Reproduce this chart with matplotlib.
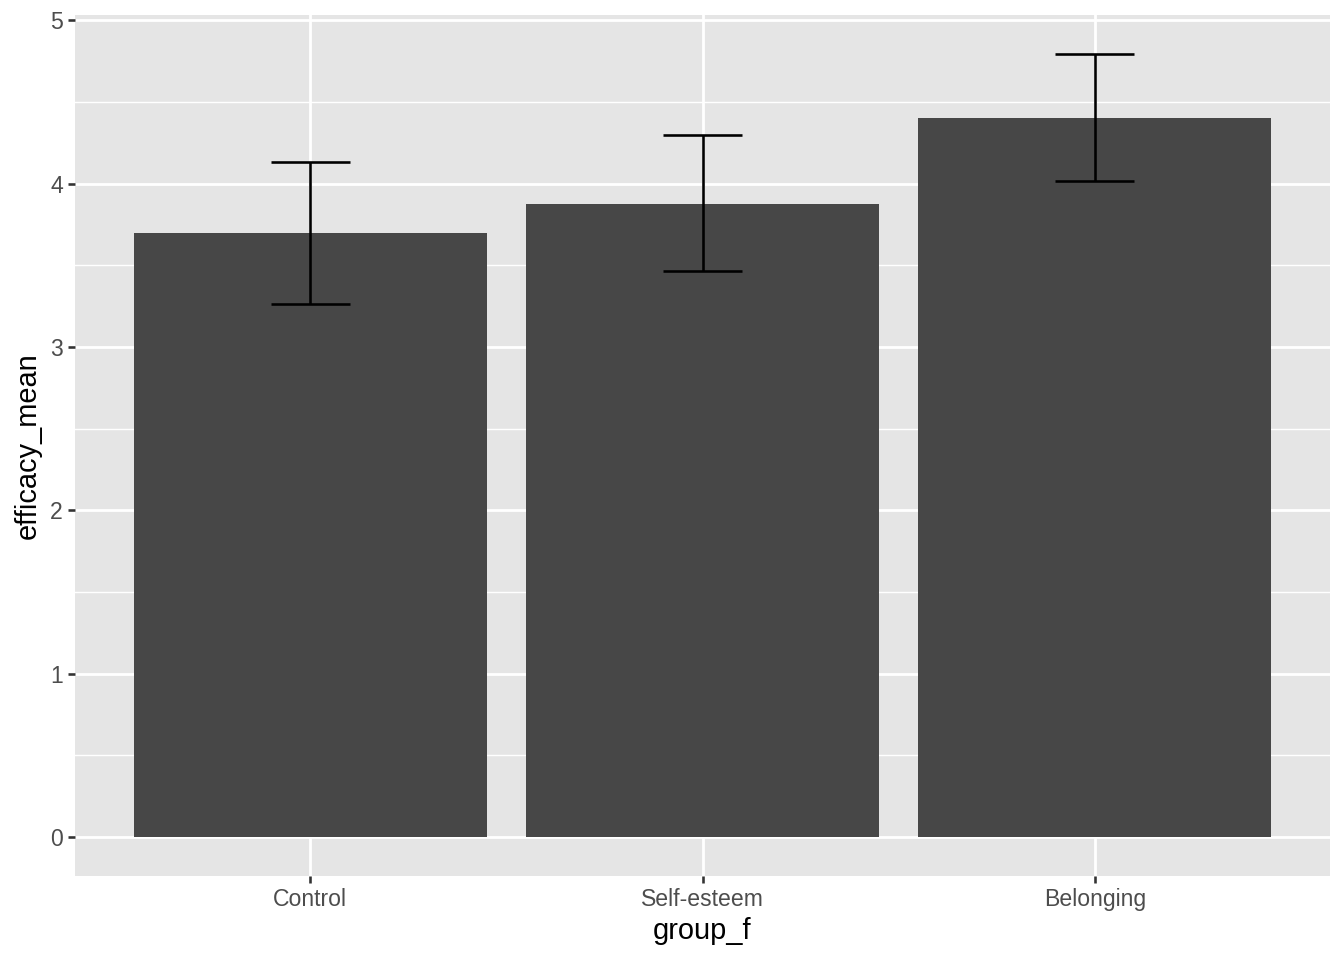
import numpy as np
import matplotlib.pyplot as plt

plt.rcParams['font.family'] = ['Liberation Sans', 'DejaVu Sans']

groups = ['Control', 'Self-esteem', 'Belonging']
efficacy_mean = [3.698, 3.876, 4.402]
ci_low = [3.260, 3.466, 4.016]
ci_high = [4.135, 4.298, 4.793]

fig = plt.figure(figsize=(1344 / 144, 960 / 144), dpi=144)
ax = fig.add_axes([75 / 1344, 84 / 960, (1330 - 75) / 1344, (876 - 15) / 960])

x = np.arange(1, len(groups) + 1)
mean = np.array(efficacy_mean)
lo = np.array(ci_low)
hi = np.array(ci_high)

ax.set_facecolor('#E5E5E5')
for s in ax.spines.values():
    s.set_visible(False)

# grid
for yv in np.arange(0.5, 5.0, 1.0):
    ax.axhline(yv, color='white', lw=0.7, zorder=0)
for yv in range(0, 6):
    ax.axhline(yv, color='white', lw=1.4, zorder=0)
for xv in x:
    ax.axvline(xv, color='white', lw=1.4, zorder=0)

ax.bar(x, mean, width=0.9, color='#474747', zorder=2)
ax.errorbar(x, mean, yerr=[mean - lo, hi - mean], fmt='none',
            ecolor='black', elinewidth=1.3, capsize=0, zorder=3)
# caps of width 0.2
ax.hlines(lo, x - 0.1, x + 0.1, color='black', lw=1.3, zorder=3)
ax.hlines(hi, x - 0.1, x + 0.1, color='black', lw=1.3, zorder=3)

ymax = hi.max()
ax.set_ylim(-0.05 * ymax, ymax * 1.05)
ax.set_xlim(0.4, 3.6)

ax.set_xticks(x)
ax.set_xticklabels(groups)
ax.set_yticks(range(0, 6))
ax.tick_params(axis='both', length=3.6, width=1.3, color='#333333',
               labelsize=11.5, labelcolor='#4D4D4D', pad=2.5)

ax.set_xlabel('group_f', fontsize=14.5, color='black', labelpad=3)
ax.set_ylabel('efficacy_mean', fontsize=14.5, color='black', labelpad=4)

fig.savefig('out.png', dpi=144)
